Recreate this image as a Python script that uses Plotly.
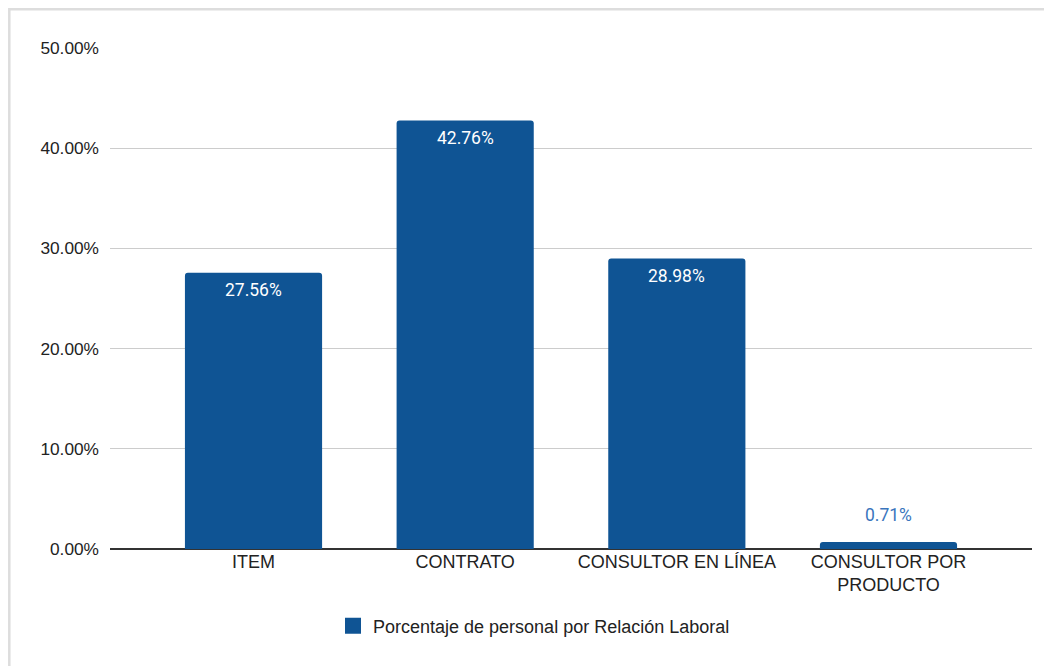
import plotly.graph_objects as go

categories = ["ITEM", "CONTRATO", "CONSULTOR EN LÍNEA", "CONSULTOR POR<br>PRODUCTO"]
values = [0.2756, 0.4276, 0.2898, 0.0071]
series_name = "Porcentaje de personal por Relación Laboral"
tick_vals = [0, 0.1, 0.2, 0.3, 0.4, 0.5]

BAR = "#0F5494"
W, H = 1052, 666
L, R, T, B = 102, 28, 40, 125
PW, PH = W - L - R, H - T - B

fig = go.Figure()
fig.add_trace(go.Bar(
    x=categories, y=values, name=series_name,
    marker=dict(color=BAR, line=dict(width=0), cornerradius=3),
    width=0.648, showlegend=False, hoverinfo="x+y",
))
# legend entry with a larger square swatch
fig.add_trace(go.Scatter(
    x=[None], y=[None], mode="markers", name=series_name,
    marker=dict(symbol="square", size=17, color=BAR), showlegend=True,
))

for c, v in zip(categories, values):
    inside = v > 0.05
    fig.add_annotation(
        x=c, y=v, text=f"{v*100:.2f}%", showarrow=False,
        yshift=-17 if inside else 27, yanchor="middle",
        font=dict(family="Roboto", size=17.5, color="white" if inside else "#3A75BD"),
    )

fig.update_layout(
    width=W, height=H,
    margin=dict(l=L, r=R, t=T, b=B),
    paper_bgcolor="white", plot_bgcolor="white",
    font=dict(family="Liberation Sans, Arial", size=17, color="#222222"),
    xaxis=dict(
        range=[-0.678, 3.678], showgrid=False, showline=False,
        ticks="", tickfont=dict(size=18, color="#222222"),
        fixedrange=True,
    ),
    yaxis=dict(
        range=[0, 0.5], tickvals=tick_vals, tickformat=".2%",
        showgrid=True, gridcolor="#CCCCCC", gridwidth=1,
        zeroline=True, zerolinecolor="#333333", zerolinewidth=1.5,
        showline=False, ticks="", ticklabelstandoff=10,
        tickfont=dict(size=17.3, color="#222222"),
    ),
    legend=dict(
        orientation="h", x=(325 - L) / PW, xanchor="left",
        y=(H - B - 618) / PH, yanchor="middle",
        font=dict(size=18, color="#222222"),
        bgcolor="rgba(0,0,0,0)", itemsizing="trace",
    ),
)

# outer light border (cropped at right/bottom in reference)
fig.add_shape(
    type="rect", xref="paper", yref="paper",
    x0=(1.3 - L) / PW, x1=(1070 - L) / PW,
    y0=(H - B - 690) / PH, y1=(H - B - 1.3) / PH,
    line=dict(color="#DDDDDD", width=2.5), fillcolor="rgba(0,0,0,0)", layer="below",
)

fig.write_html("out.html")
